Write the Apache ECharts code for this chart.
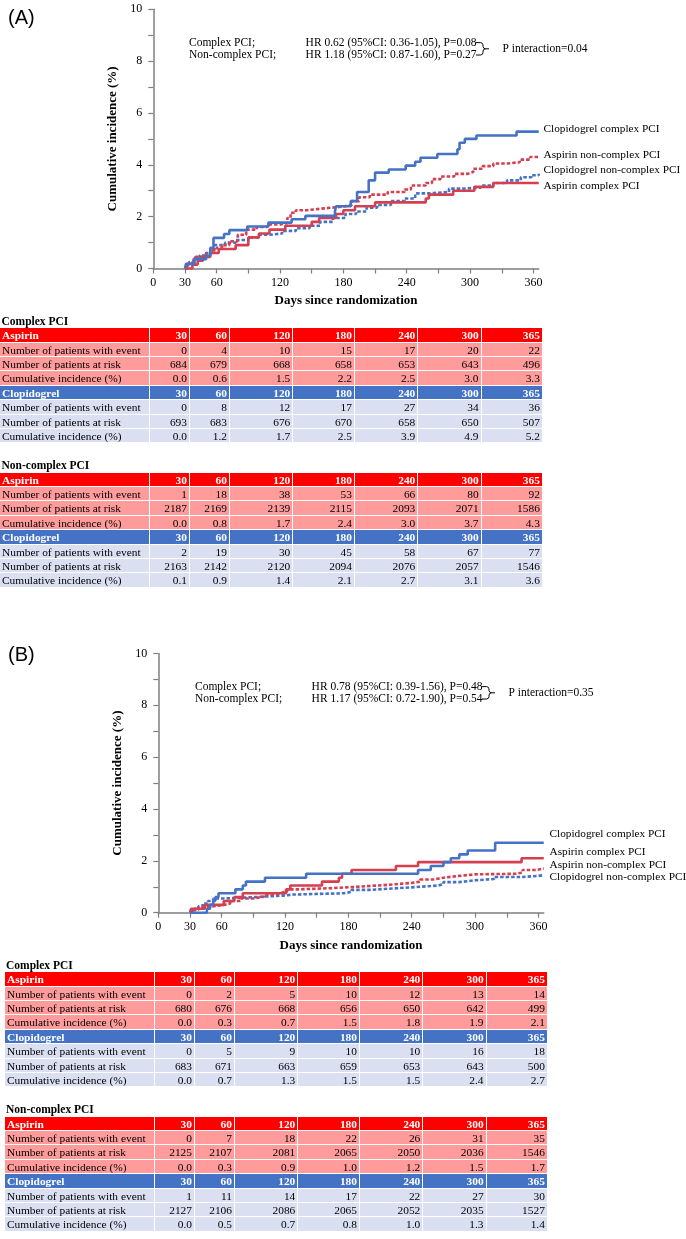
<!DOCTYPE html>
<html>
<head>
<meta charset="utf-8">
<script src="https://cdn.jsdelivr.net/npm/echarts@6/dist/echarts.min.js"></script>
<style>
  html, body { margin:0; padding:0; background:#fff; }
  #wrap { position:relative; width:686px; height:1239px; overflow:hidden; }
  #c { position:absolute; left:0; top:0; width:686px; height:1239px; }
  .tbl { position:absolute; font-family:"Liberation Serif","Times New Roman",serif; font-size:11.4px; color:#000; }
  .ttl { position:absolute; font-family:"Liberation Serif","Times New Roman",serif; font-size:11.5px; font-weight:bold; color:#000; line-height:14px; white-space:nowrap; }
  .row { display:flex; height:14.375px; }
  .cell { box-sizing:border-box; height:14.375px; line-height:14px; border-right:1px solid #fff; border-bottom:1px solid #fff; padding:0 2px; white-space:nowrap; overflow:hidden; }
  .num { text-align:right; }
  .hdr { color:#fff; font-weight:bold; }
</style>
</head>
<body>
<div id="wrap">
  <div id="c"></div>
</div>
<script>
// ---------------- DATA ----------------
// Panel A curves: [day, cumulative incidence %]
const aClopiComplex = [[30,0],[31,0.18],[39,0.36],[50,0.5],[54,0.8],[57,1.18],[67,1.33],[72,1.48],[89,1.62],[109,1.77],[131,1.9],[144,2.03],[172,2.2],[173,2.4],[187,2.6],[193,2.95],[204,3.4],[210,3.7],[223,3.82],[239,3.97],[248,4.12],[253,4.27],[269,4.42],[288,4.6],[290,4.85],[295,5.0],[306,5.13],[344,5.28],[365,5.28]];
const aAspirinNonComplex = [[30,0],[33,0.2],[37,0.35],[40,0.45],[45,0.5],[50,0.6],[55,0.7],[60,0.8],[65,0.9],[72,1.05],[80,1.3],[88,1.5],[98,1.6],[108,1.7],[120,1.75],[127,1.95],[130,2.15],[135,2.25],[145,2.32],[162,2.38],[178,2.45],[188,2.6],[195,2.75],[205,2.85],[222,2.95],[238,3.05],[244,3.2],[258,3.3],[264,3.45],[272,3.55],[285,3.65],[297,3.72],[303,3.85],[312,3.95],[322,4.05],[335,4.1],[347,4.2],[357,4.3],[365,4.3]];
const aClopiNonComplex = [[30,0.1],[34,0.25],[38,0.4],[44,0.5],[50,0.6],[54,0.75],[58,0.9],[68,1.0],[78,1.1],[90,1.2],[100,1.3],[110,1.35],[122,1.45],[135,1.55],[148,1.65],[158,1.8],[170,1.95],[182,2.1],[192,2.2],[202,2.35],[212,2.45],[225,2.6],[238,2.7],[248,2.9],[262,2.95],[280,3.08],[292,3.12],[310,3.2],[322,3.3],[335,3.4],[348,3.52],[358,3.6],[365,3.66]];
const aAspirinComplex = [[30,0],[37,0.15],[42,0.3],[47,0.45],[54,0.6],[62,0.75],[78,0.9],[90,1.2],[100,1.35],[110,1.5],[125,1.65],[150,1.8],[157,1.95],[173,2.1],[180,2.25],[191,2.4],[210,2.55],[258,2.7],[261,2.85],[284,3.0],[304,3.15],[322,3.3],[365,3.3]];

// Panel B curves
const bClopiComplex = [[30,0],[46,0.15],[49,0.3],[52,0.45],[54,0.6],[57,0.75],[73,0.9],[80,1.05],[83,1.2],[101,1.35],[140,1.5],[246,1.65],[258,1.8],[270,1.95],[277,2.1],[285,2.25],[293,2.4],[319,2.7],[365,2.7]];
const bAspirinComplex = [[30,0],[31,0.15],[44,0.3],[62,0.45],[72,0.6],[80,0.75],[121,0.9],[125,1.05],[155,1.2],[171,1.35],[174,1.5],[183,1.65],[225,1.8],[246,1.95],[344,2.1],[365,2.1]];
const bAspirinNonComplex = [[30,0],[34,0.1],[38,0.2],[45,0.25],[53,0.3],[62,0.35],[68,0.45],[78,0.55],[90,0.62],[100,0.7],[110,0.75],[115,0.82],[122,0.9],[132,0.95],[165,1.0],[188,1.05],[208,1.1],[225,1.15],[240,1.2],[248,1.28],[260,1.35],[270,1.42],[285,1.48],[300,1.5],[338,1.55],[345,1.65],[358,1.7],[365,1.7]];
const bClopiNonComplex = [[30,0.05],[34,0.15],[38,0.25],[42,0.35],[47,0.45],[52,0.55],[62,0.58],[80,0.62],[100,0.66],[118,0.7],[128,0.75],[175,0.8],[183,0.88],[200,0.95],[228,1.0],[248,1.05],[265,1.1],[270,1.18],[285,1.25],[300,1.3],[318,1.38],[345,1.42],[360,1.45],[365,1.45]];

// Axis ticks
const xTickValues = [0,30,60,90,120,150,180,210,240,270,300,330,360];
const xLabelValues = [0,30,60,120,180,240,300,360];
const yTickValues = [0,1,2,3,4,5,6,7,8,9,10];
const yLabelValues = [0,2,4,6,8,10];

// Annotation text
const aHrLines = ['HR 0.62 (95%CI: 0.36-1.05), P=0.08','HR 1.18 (95%CI: 0.87-1.60), P=0.27'];
const bHrLines = ['HR 0.78 (95%CI: 0.39-1.56), P=0.48','HR 1.17 (95%CI: 0.72-1.90), P=0.54'];
const groupLines = ['Complex PCI;','Non-complex PCI;'];
const aInteraction = 'P interaction=0.04';
const bInteraction = 'P interaction=0.35';

// Risk tables
const tableDays = [30,60,120,180,240,300,365];
const rowLabels = ['Number of patients with event','Number of patients at risk','Cumulative incidence (%)'];
const aCxAspEvents = [0,4,10,15,17,20,22];
const aCxAspRisk = [684,679,668,658,653,643,496];
const aCxAspInc = ['0.0','0.6','1.5','2.2','2.5','3.0','3.3'];
const aCxClpEvents = [0,8,12,17,27,34,36];
const aCxClpRisk = [693,683,676,670,658,650,507];
const aCxClpInc = ['0.0','1.2','1.7','2.5','3.9','4.9','5.2'];
const aNcAspEvents = [1,18,38,53,66,80,92];
const aNcAspRisk = [2187,2169,2139,2115,2093,2071,1586];
const aNcAspInc = ['0.0','0.8','1.7','2.4','3.0','3.7','4.3'];
const aNcClpEvents = [2,19,30,45,58,67,77];
const aNcClpRisk = [2163,2142,2120,2094,2076,2057,1546];
const aNcClpInc = ['0.1','0.9','1.4','2.1','2.7','3.1','3.6'];
const bCxAspEvents = [0,2,5,10,12,13,14];
const bCxAspRisk = [680,676,668,656,650,642,499];
const bCxAspInc = ['0.0','0.3','0.7','1.5','1.8','1.9','2.1'];
const bCxClpEvents = [0,5,9,10,10,16,18];
const bCxClpRisk = [683,671,663,659,653,643,500];
const bCxClpInc = ['0.0','0.7','1.3','1.5','1.5','2.4','2.7'];
const bNcAspEvents = [0,7,18,22,26,31,35];
const bNcAspRisk = [2125,2107,2081,2065,2050,2036,1546];
const bNcAspInc = ['0.0','0.3','0.9','1.0','1.2','1.5','1.7'];
const bNcClpEvents = [1,11,14,17,22,27,30];
const bNcClpRisk = [2127,2106,2086,2065,2052,2035,1527];
const bNcClpInc = ['0.0','0.5','0.7','0.8','1.0','1.3','1.4'];

// ---------------- STYLE ----------------
const SERIF = '"Liberation Serif","Times New Roman",serif';
const BLUE = '#4472C4';
const RED = '#D63F4F';
const AXIS = '#7f7f7f';
const DASH = [3.5, 2];

function xAxisDef(gi){
  return {
    gridIndex: gi, type:'value', min:0, max:365, interval:30,
    axisLine:{lineStyle:{color:AXIS, width:1.5}},
    axisTick:{show:true, length:5, customValues:xTickValues, lineStyle:{color:AXIS, width:1.2}},
    splitLine:{show:false},
    axisLabel:{customValues:xLabelValues, color:'#000', fontFamily:SERIF, fontSize:12, margin:8},
    name:'Days since randomization', nameLocation:'middle', nameGap:26,
    nameTextStyle:{fontWeight:'bold', fontSize:13, fontFamily:SERIF, color:'#000'}
  };
}
function yAxisDef(gi){
  return {
    gridIndex: gi, type:'value', min:0, max:10, interval:1,
    axisLine:{show:true, lineStyle:{color:AXIS, width:1.5}},
    axisTick:{show:true, length:5, customValues:yTickValues, lineStyle:{color:AXIS, width:1.2}},
    splitLine:{show:false},
    axisLabel:{customValues:yLabelValues, color:'#000', fontFamily:SERIF, fontSize:12, margin:11},
    name:'Cumulative incidence (%)', nameLocation:'middle', nameGap:33, nameRotate:90,
    nameTextStyle:{fontWeight:'bold', fontSize:13, fontFamily:SERIF, color:'#000'}
  };
}
function lineSeries(gi, data, color, dashed){
  return {
    type:'line', xAxisIndex:gi, yAxisIndex:gi, data:data, step:'end',
    symbol:'none', silent:true,
    lineStyle:{color:color, width:2.6, type: dashed ? DASH : 'solid', cap:'butt'}
  };
}
function txt(x, y, text, size){
  return {type:'text', x:x, y:y, silent:true,
    style:{text:text, font: (size||11.5)+'px '+SERIF, fill:'#000', verticalAlign:'middle', textAlign:'left'}};
}
function brace(x0, yTop, yBot){
  const xm = x0 + 7, ym = (yTop + yBot)/2;
  const pts = [
    [x0,yTop],[xm-2.5,yTop],[xm-0.8,yTop+0.6],[xm,yTop+2.2],[xm,ym-2.2],[xm+0.8,ym-0.6],[xm+2.5,ym],[xm+6,ym]
  ];
  const pts2 = [
    [xm+2.5,ym],[xm+0.8,ym+0.6],[xm,ym+2.2],[xm,yBot-2.2],[xm-0.8,yBot-0.6],[xm-2.5,yBot],[x0,yBot]
  ];
  return [
    {type:'polyline', silent:true, shape:{points:pts}, style:{stroke:'#000', lineWidth:1, fill:null}},
    {type:'polyline', silent:true, shape:{points:pts2}, style:{stroke:'#000', lineWidth:1, fill:null}}
  ];
}

function panelGraphics(dx, dy, letterY, hr, inter, labels, letter){
  return [
    {type:'text', x:8, y:letterY, silent:true, style:{text:letter, font:'20px "Liberation Sans",Arial,sans-serif', fill:'#000', verticalAlign:'middle'}},
    txt(189+dx, 42.6+dy, groupLines[0]),
    txt(189+dx, 55+dy, groupLines[1]),
    txt(305.6+dx, 42.6+dy, hr[0]),
    txt(305.6+dx, 55+dy, hr[1]),
    txt(502.5+dx, 48.8+dy, inter),
    txt(543.5+dx, labels[0][1]+dy, labels[0][0], 11.3),
    txt(543.5+dx, labels[1][1]+dy, labels[1][0], 11.3),
    txt(543.5+dx, labels[2][1]+dy, labels[2][0], 11.3),
    txt(543.5+dx, labels[3][1]+dy, labels[3][0], 11.3)
  ].concat(brace(476+dx, 42.6+dy, 55+dy));
}

const chart = echarts.init(document.getElementById('c'), null, {renderer:'canvas', width:686, height:1239});
const gridW = 365 * 1.056;
chart.setOption({
  animation:false,
  backgroundColor:'#fff',
  grid:[
    {left:153.3, top:9.3, width:gridW, height:259.2},
    {left:158.3, top:653.5, width:gridW, height:259.2}
  ],
  xAxis:[xAxisDef(0), xAxisDef(1)],
  yAxis:[yAxisDef(0), yAxisDef(1)],
  series:[
    lineSeries(0, aClopiNonComplex, BLUE, true),
    lineSeries(0, aAspirinNonComplex, RED, true),
    lineSeries(0, aAspirinComplex, RED, false),
    lineSeries(0, aClopiComplex, BLUE, false),
    lineSeries(1, bClopiNonComplex, BLUE, true),
    lineSeries(1, bAspirinNonComplex, RED, true),
    lineSeries(1, bAspirinComplex, RED, false),
    lineSeries(1, bClopiComplex, BLUE, false)
  ],
  graphic: [].concat(
    panelGraphics(0, 0, 18, aHrLines, aInteraction,
      [['Clopidogrel complex PCI',128.8],['Aspirin non-complex PCI',155],['Clopidogrel non-complex PCI',170.5],['Aspirin complex PCI',186.5]], '(A)'),
    panelGraphics(6, 644, 655, bHrLines, bInteraction,
      [['Clopidogrel complex PCI',190.5],['Aspirin complex PCI',207.8],['Aspirin non-complex PCI',221.5],['Clopidogrel non-complex PCI',233.5]], '(B)')
  )
});

// ---------------- TABLES ----------------
const colW = [150,40,40,63.3,61.7,63.3,63.3,61.3];
const wrap = document.getElementById('wrap');
function addTitle(text, left, cy){
  const d = document.createElement('div');
  d.className = 'ttl'; d.textContent = text;
  d.style.left = left + 'px'; d.style.top = (cy - 7) + 'px';
  wrap.appendChild(d);
}
function addRow(tbl, cells, bg, isHdr){
  const r = document.createElement('div'); r.className = 'row';
  cells.forEach((c, i) => {
    const d = document.createElement('div');
    d.className = 'cell' + (i > 0 ? ' num' : '') + (isHdr ? ' hdr' : '');
    d.style.width = colW[i] + 'px';
    d.style.background = bg;
    d.textContent = c;
    r.appendChild(d);
  });
  tbl.appendChild(r);
}
function addTable(left, top, asp, clp){
  const t = document.createElement('div'); t.className = 'tbl';
  t.style.left = left + 'px'; t.style.top = top + 'px';
  addRow(t, ['Aspirin'].concat(tableDays), '#FF0000', true);
  addRow(t, [rowLabels[0]].concat(asp[0]), '#FF9B9B', false);
  addRow(t, [rowLabels[1]].concat(asp[1]), '#FF9B9B', false);
  addRow(t, [rowLabels[2]].concat(asp[2]), '#FF9B9B', false);
  addRow(t, ['Clopidogrel'].concat(tableDays), BLUE, true);
  addRow(t, [rowLabels[0]].concat(clp[0]), '#DAE0F2', false);
  addRow(t, [rowLabels[1]].concat(clp[1]), '#DAE0F2', false);
  addRow(t, [rowLabels[2]].concat(clp[2]), '#DAE0F2', false);
  wrap.appendChild(t);
}
// Panel A tables
addTitle('Complex PCI', 1.5, 320.7);
addTable(0, 328.3, [aCxAspEvents, aCxAspRisk, aCxAspInc], [aCxClpEvents, aCxClpRisk, aCxClpInc]);
addTitle('Non-complex PCI', 1.5, 465);
addTable(0, 472.7, [aNcAspEvents, aNcAspRisk, aNcAspInc], [aNcClpEvents, aNcClpRisk, aNcClpInc]);
// Panel B tables
addTitle('Complex PCI', 6, 964.7);
addTable(5, 972.3, [bCxAspEvents, bCxAspRisk, bCxAspInc], [bCxClpEvents, bCxClpRisk, bCxClpInc]);
addTitle('Non-complex PCI', 6, 1109);
addTable(5, 1116.7, [bNcAspEvents, bNcAspRisk, bNcAspInc], [bNcClpEvents, bNcClpRisk, bNcClpInc]);
</script>
</body>
</html>
